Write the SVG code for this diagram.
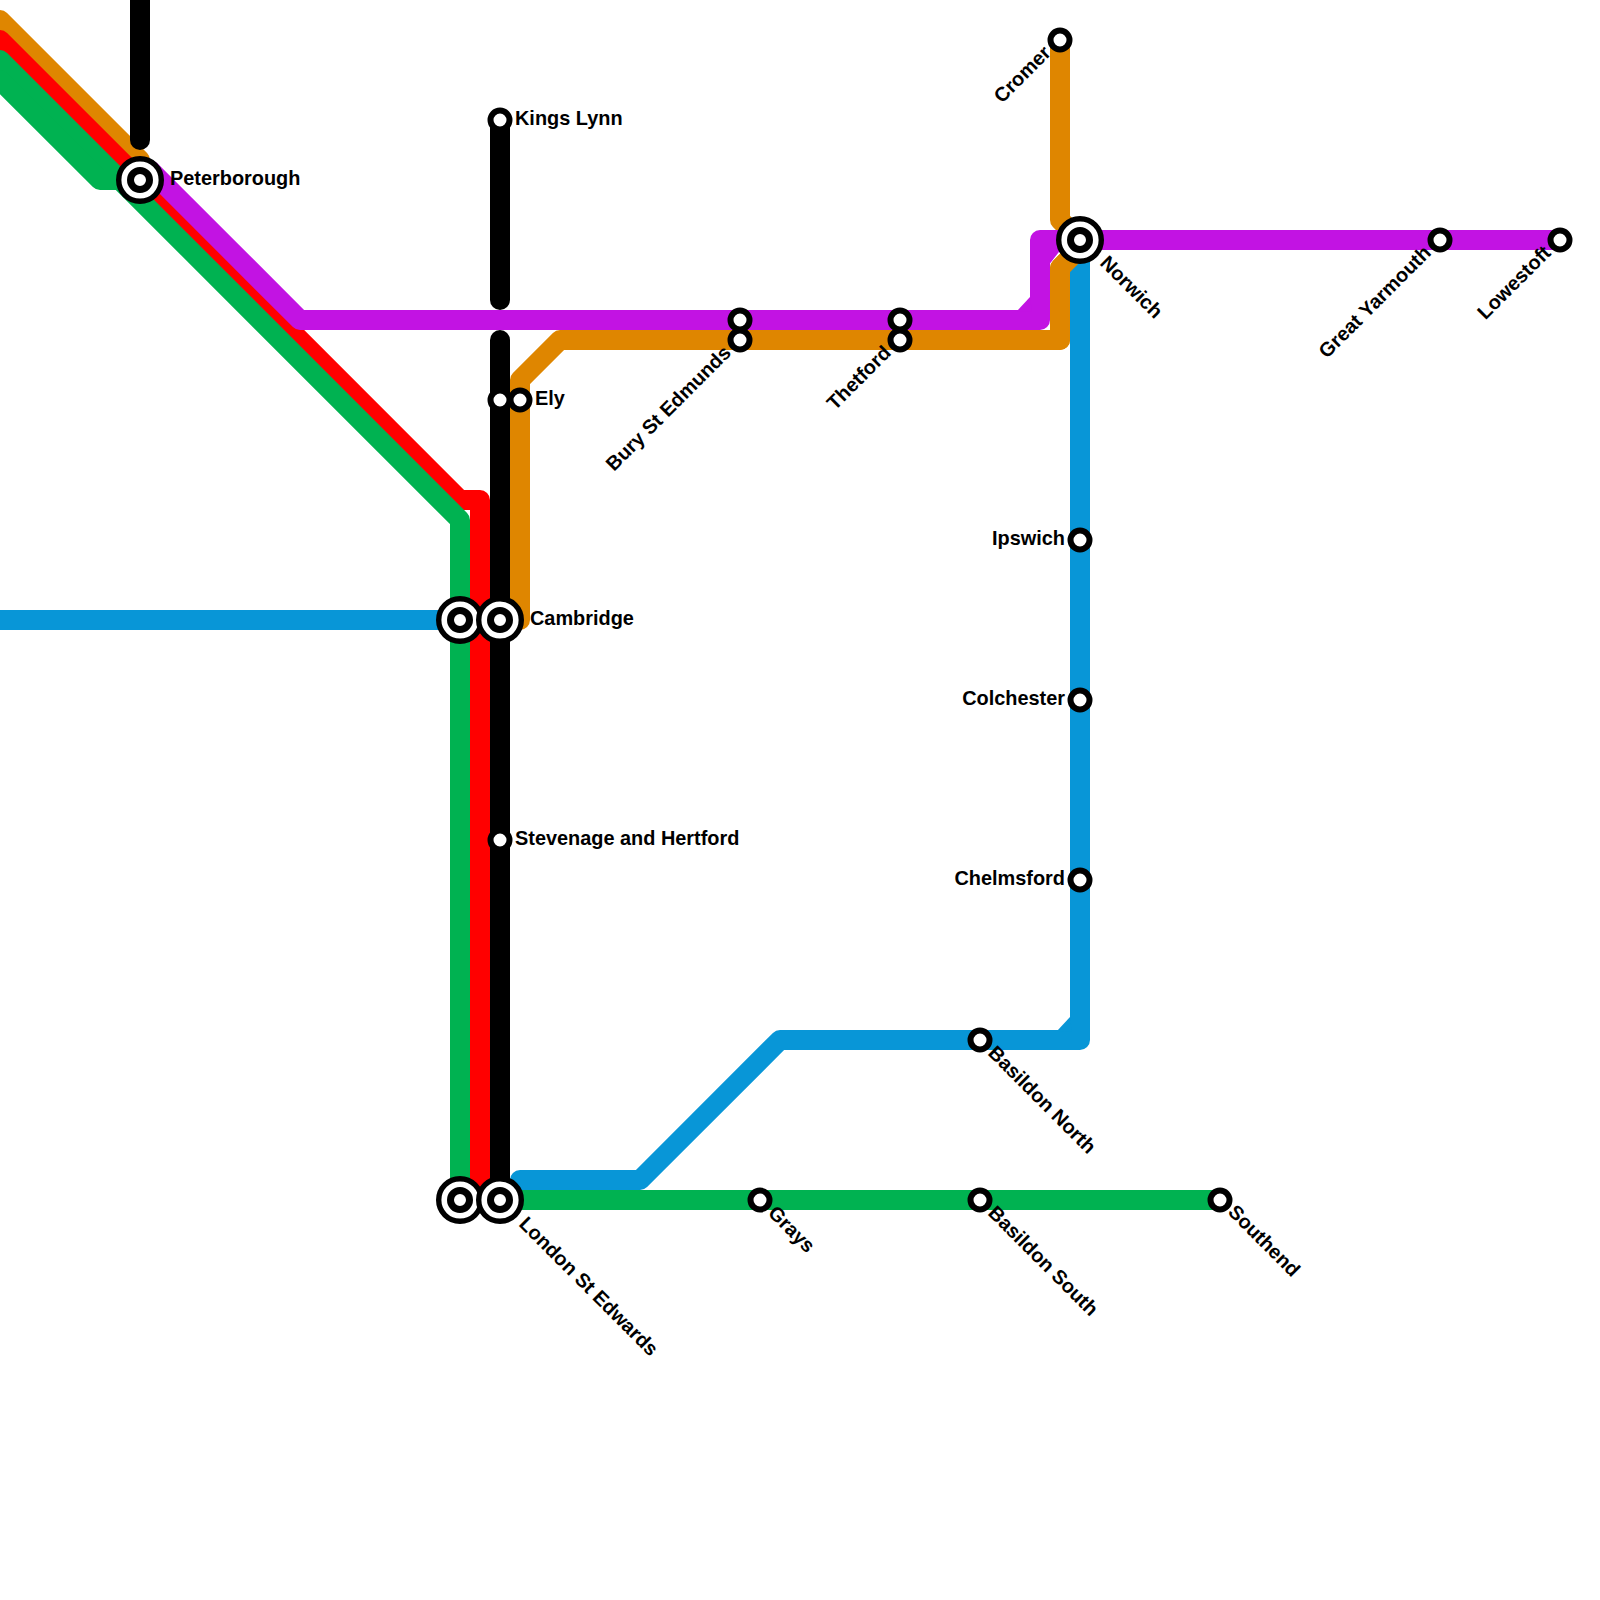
<svg xmlns="http://www.w3.org/2000/svg" width="1600" height="1600" viewBox="0 0 1600 1600">
<defs><style>
.l{fill:none;stroke-width:20;stroke-linecap:round;stroke-linejoin:round}
.o{stroke:#df8600}.r{stroke:#ff0000}.g{stroke:#00b251}.b{stroke:#0896d7}.p{stroke:#c213e3}.k{stroke:#000000}
.ring{fill:#fff;stroke:#000;stroke-width:6}
.core{fill:#fff;stroke:#000;stroke-width:7}
.hub{fill:#fff;stroke:#000;stroke-width:5.4}
text{font-family:"Liberation Sans",Arial,sans-serif;font-weight:700;font-size:19.9px;fill:#000}
.e{text-anchor:end}
</style></defs>
<rect width="1600" height="1600" fill="#fff"/>
<g id="connectors">
<path class="l o" d="M0 20L140 160"/>
<path class="l o" d="M520 620V380L560 340H1060V268L1080 248"/>
<path class="l o" d="M1060 40V220L1080 240"/>
<path class="l r" d="M0 40L460 500H480V1200"/>
<path class="l b" d="M0 620H460"/>
<path class="l g" d="M0 60L460 520V1200"/>
<path class="l g" d="M0 80L100 180H140"/>
<path class="l g" d="M500 1200H1220"/>
<path class="l b" d="M520 1180H640L780 1040H1080V240"/>
<polygon fill="#0896d7" points="1057,1031 1070,1017 1072,1032"/>
<path class="l p" d="M150 170L300 320H1040V240H1560"/>
<polygon fill="#c213e3" points="1017,311 1030,297 1032,312"/>
<polygon fill="#c213e3" points="1048,248 1062,248 1048,266"/>
<path class="l o" d="M1060 340V268L1080 248"/>
<path class="l k" d="M140 0V140"/>
<path class="l k" d="M500 120V300"/>
<path class="l k" d="M500 340V1200"/>
</g>
<g id="peterborough"><circle class="hub" cx="140" cy="180" r="21.3"/><circle class="core" cx="140" cy="180" r="9.5"/><text x="170" y="185">Peterborough</text></g>
<g id="kings-lynn"><circle class="ring" cx="500" cy="120" r="9.5"/><text x="515" y="125">Kings Lynn</text></g>
<g id="ely-a"><circle class="ring" cx="500" cy="400" r="9.5"/></g>
<g id="ely"><circle class="ring" cx="520" cy="400" r="9.5"/><text x="535" y="405">Ely</text></g>
<g id="cambridge-a"><circle class="hub" cx="460" cy="620" r="21.3"/><circle class="core" cx="460" cy="620" r="9.5"/></g>
<g id="cambridge"><circle class="hub" cx="500" cy="620" r="21.3"/><circle class="core" cx="500" cy="620" r="9.5"/><text x="530" y="625">Cambridge</text></g>
<g id="stevenage"><circle class="ring" cx="500" cy="840" r="9.5"/><text x="515" y="845">Stevenage and Hertford</text></g>
<g id="london-a"><circle class="hub" cx="460" cy="1200" r="21.3"/><circle class="core" cx="460" cy="1200" r="9.5"/></g>
<g id="london"><circle class="hub" cx="500" cy="1200" r="21.3"/><circle class="core" cx="500" cy="1200" r="9.5"/><text transform="translate(518 1225) rotate(45)">London St Edwards</text></g>
<g id="grays"><circle class="ring" cx="760" cy="1200" r="9.5"/><text transform="translate(767 1214) rotate(45)">Grays</text></g>
<g id="basildon-south"><circle class="ring" cx="980" cy="1200" r="9.5"/><text transform="translate(987 1214) rotate(45)">Basildon South</text></g>
<g id="southend"><circle class="ring" cx="1220" cy="1200" r="9.5"/><text transform="translate(1227 1213) rotate(45)">Southend</text></g>
<g id="basildon-north"><circle class="ring" cx="980" cy="1040" r="9.5"/><text transform="translate(987 1054) rotate(45)">Basildon North</text></g>
<g id="bury-a"><circle class="ring" cx="740" cy="320" r="9.5"/></g>
<g id="bury"><circle class="ring" cx="740" cy="340" r="9.5"/><text class="e" transform="translate(732 354) rotate(-45)">Bury St Edmunds</text></g>
<g id="thetford-a"><circle class="ring" cx="900" cy="320" r="9.5"/></g>
<g id="thetford"><circle class="ring" cx="900" cy="340" r="9.5"/><text class="e" transform="translate(892 354) rotate(-45)">Thetford</text></g>
<g id="cromer"><circle class="ring" cx="1060" cy="40" r="9.5"/><text class="e" transform="translate(1052 54) rotate(-45)">Cromer</text></g>
<g id="norwich"><circle class="hub" cx="1080" cy="240" r="21.3"/><circle class="core" cx="1080" cy="240" r="9.5"/><text transform="translate(1099 264) rotate(45)">Norwich</text></g>
<g id="great-yarmouth"><circle class="ring" cx="1440" cy="240" r="9.5"/><text class="e" transform="translate(1432 254) rotate(-45)">Great Yarmouth</text></g>
<g id="lowestoft"><circle class="ring" cx="1560" cy="240" r="9.5"/><text class="e" transform="translate(1552 254) rotate(-45)">Lowestoft</text></g>
<g id="ipswich"><circle class="ring" cx="1080" cy="540" r="9.5"/><text class="e" x="1065" y="545">Ipswich</text></g>
<g id="colchester"><circle class="ring" cx="1080" cy="700" r="9.5"/><text class="e" x="1065" y="705">Colchester</text></g>
<g id="chelmsford"><circle class="ring" cx="1080" cy="880" r="9.5"/><text class="e" x="1065" y="885">Chelmsford</text></g>
</svg>
